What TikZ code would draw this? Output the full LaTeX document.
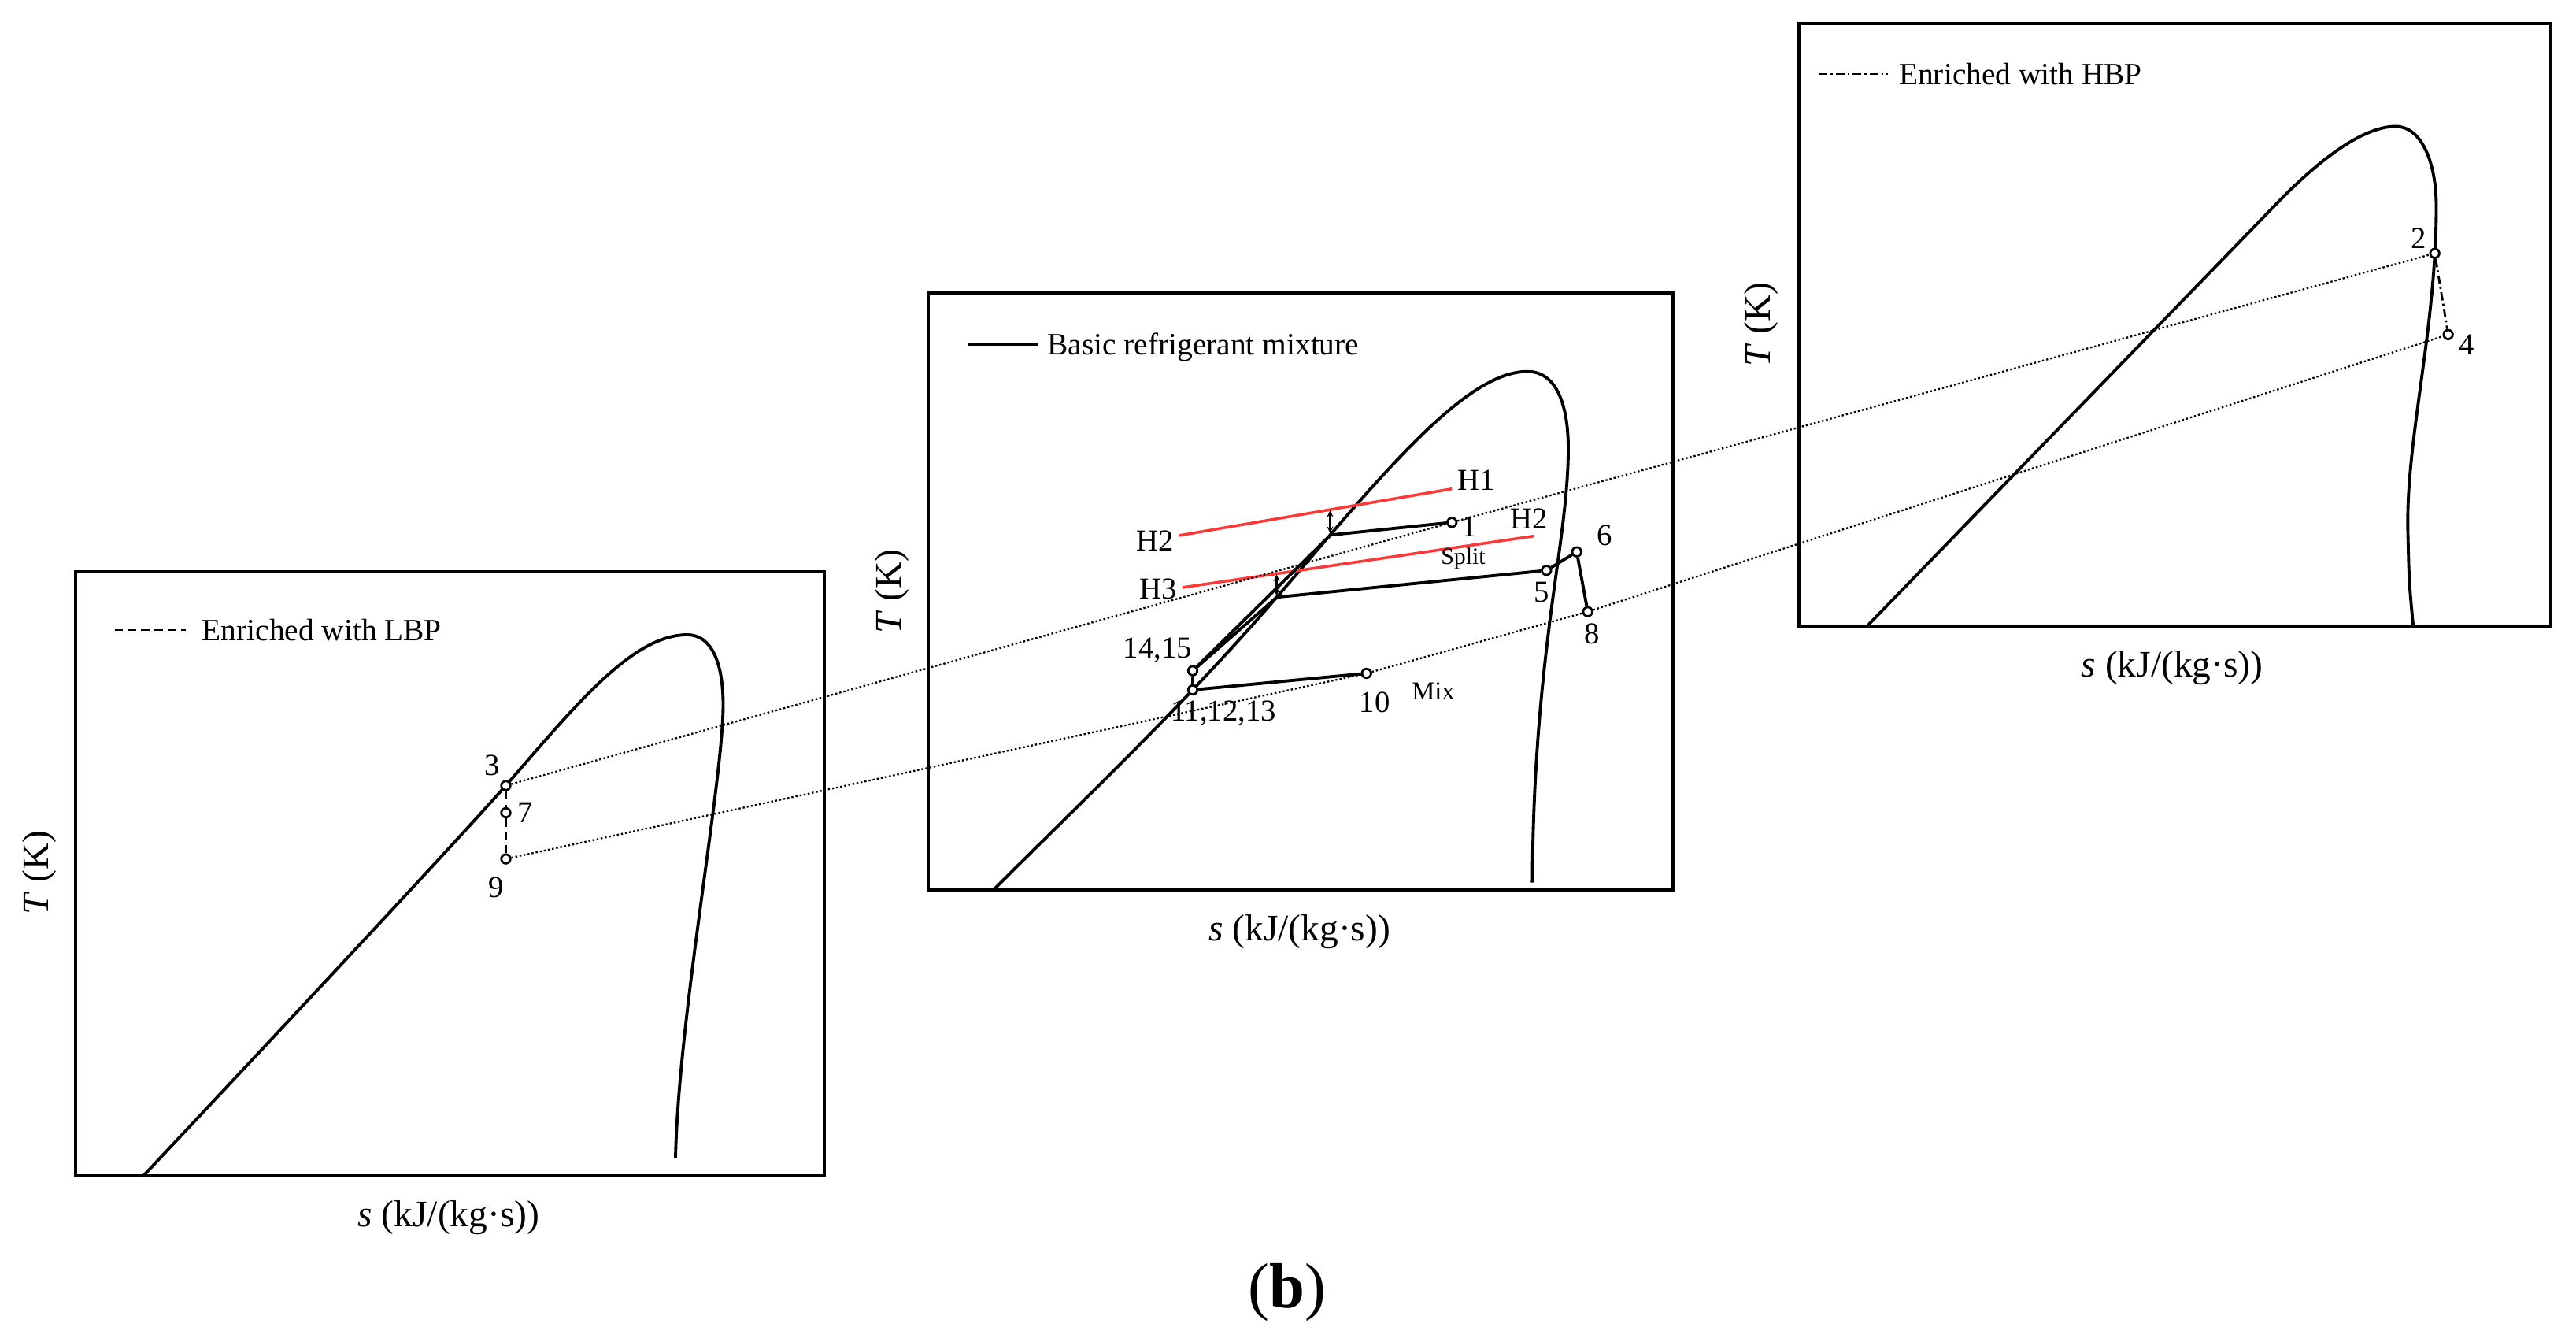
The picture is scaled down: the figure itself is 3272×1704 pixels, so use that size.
\documentclass[tikz,border=0pt]{standalone}
\usepackage{fontspec}
\setmainfont{Liberation Serif}
\usetikzlibrary{arrows.meta}
\definecolor{hred}{RGB}{255,55,55}
\begin{document}
\begin{tikzpicture}[x=0.01cm,y=-0.01cm,
  frame/.style={line width=1.4pt},
  sat/.style={line width=1.1pt, line join=round},
  cyc/.style={line width=1.1pt},
  pt/.style={circle, draw, fill=white, line width=0.8pt, inner sep=0pt, minimum size=0.115cm},
  link/.style={line width=0.65pt, dash pattern=on 0.7pt off 0.8pt},
  lbl/.style={inner sep=0pt, font=\fontsize{11}{13}\selectfont},
  tinylbl/.style={inner sep=0pt, font=\fontsize{8.5}{10}\selectfont},
  axislbl/.style={inner sep=0pt, font=\fontsize{13.5}{16}\selectfont},
  legendtxt/.style={inner sep=0pt, anchor=base west, font=\fontsize{11.2}{13}\selectfont},
  hline/.style={line width=1pt, draw=hred},
  tick/.style={line width=0.7pt, {Stealth[length=0.085cm,width=0.08cm]}-{Stealth[length=0.085cm,width=0.08cm]}},
  lbpdash/.style={line width=0.8pt, dash pattern=on 3pt off 1.8pt},
  hbpdash/.style={line width=0.8pt, dash pattern=on 3pt off 1.2pt on 0.7pt off 1.2pt},
]
\fill[white] (0,0) rectangle (3272,1704);
\useasboundingbox (0,0) rectangle (3272,1704);

% ---------------- frames ----------------
\draw[frame] (96,726) rectangle (1047,1493);
\draw[frame] (1179,372) rectangle (2125,1130);
\draw[frame] (2285,30) rectangle (3240,796);

% ---------------- saturation curves ----------------
% left panel
\draw[sat] (183,1492) .. controls (340,1325) and (560,1090) .. (642.5,997.5)
  .. controls (730,897) and (803,806) .. (873,806)
  .. controls (903,806) and (918.5,840) .. (918.5,895)
  .. controls (918.5,990) and (862,1290) .. (858,1470);
% middle panel
\draw[sat] (1262.8,1129) .. controls (1382.8,1009) and (1501.7,897.3) .. (1621.7,758.3)
  .. controls (1751.7,607.5) and (1860,471.7) .. (1940,471.7)
  .. controls (1975,471.7) and (1992,510) .. (1992,570)
  .. controls (1992,640) and (1975,730) .. (1966,810)
  .. controls (1955,900) and (1947,1000) .. (1946.4,1120.7);
% right panel
\draw[sat] (2370.6,796) -- (2900,250)
  .. controls (2940,210) and (2998,160.5) .. (3043,160.5)
  .. controls (3075,160.5) and (3094.5,205) .. (3094.5,262)
  .. controls (3094.5,420) and (3055,560) .. (3058.5,678.2)
  .. controls (3060,740) .. (3065.3,796);

% ---------------- legends ----------------
\coordinate (lgLa) at (145.6,800); \coordinate (lgLb) at (236,800);
\draw[lbpdash] (lgLa) -- (lgLb);
\node[legendtxt] (lgLt) at (256,814) {Enriched with LBP};
\coordinate (lgMa) at (1230,436.6); \coordinate (lgMb) at (1318.5,436.6);
\draw[line width=1.1pt] (lgMa) -- (lgMb);
\node[legendtxt] (lgMt) at (1329.6,450.7) {Basic refrigerant mixture};
\coordinate (lgRa) at (2310.5,94); \coordinate (lgRb) at (2398,94);
\draw[hbpdash] (lgRa) -- (lgRb);
\node[legendtxt] (lgRt) at (2411.5,108) {Enriched with HBP};

% ---------------- red lines ----------------
\coordinate (h1a) at (1497.3,680); \coordinate (h1b) at (1844.2,620.7);
\coordinate (h2a) at (1501.8,746); \coordinate (h2b) at (1948.2,680.7);
\draw[hline] (h1a) -- (h1b);
\draw[hline] (h2a) -- (h2b);

% ---------------- junctions ----------------
\coordinate (j1) at (1690,679.3);
\coordinate (j5) at (1621.7,758.3);
\coordinate (a1t) at (1689.5,648); \coordinate (a1b) at (1689.5,677);
\coordinate (a2t) at (1621.5,729.5); \coordinate (a2b) at (1621.5,756);

% ---------------- state points ----------------
\node[pt] (p3) at (642.5,997.5) {};
\node[pt] (p7) at (642.5,1032) {};
\node[pt] (p9) at (642.5,1090.6) {};
\node[pt] (p1) at (1844.2,663.3) {};
\node[pt] (p5) at (1964.3,724.3) {};
\node[pt] (p6) at (2002.7,700.7) {};
\node[pt] (p8) at (2016.7,776.7) {};
\node[pt] (p10) at (1735.7,855) {};
\node[pt] (p11) at (1515,876) {};
\node[pt] (p14) at (1515,851.7) {};
\node[pt] (p2) at (3092.6,321.7) {};
\node[pt] (p4) at (3109.6,424.8) {};

% ---------------- cycle lines ----------------
\draw[cyc] (j1) -- (p1);
\draw[cyc] (j5) -- (p5);
\draw[cyc] (p5) -- (p6) -- (p8);
\draw[cyc] (p11) -- (p10);
\draw[cyc] (p14) -- (j1);
\draw[cyc] (p14) -- (j5);
\draw[cyc] (p11) -- (p14);
\draw[tick] (a1t) -- (a1b);
\draw[tick] (a2t) -- (a2b);

\draw[lbpdash] (p3) -- (p7) -- (p9);
\draw[hbpdash] (p2) -- (p4);

% ---------------- dotted links ----------------
\draw[link] (p3) -- (p1) -- (p2);
\draw[link] (p9) -- (p10) -- (p8) -- (p4);

% ---------------- labels ----------------
\node[lbl] (t3) at (625,972) {3};
\node[lbl] (t7) at (667.5,1032) {7};
\node[lbl] (t9) at (630,1127) {9};
\node[lbl] (t1) at (1866.5,669) {1};
\node[lbl] (tH1) at (1875.4,610) {H1};
\node[lbl] (tH2l) at (1467,686.7) {H2};
\node[lbl] (tH2r) at (1942.4,658.3) {H2};
\node[lbl] (tH3) at (1471.4,748.3) {H3};
\node[tinylbl] (tsplit) at (1858.5,709.3) {Split};
\node[lbl] (t5) at (1958.3,751.7) {5};
\node[lbl] (t6) at (2037.7,680) {6};
\node[lbl] (t8) at (2021.7,805) {8};
\node[lbl] (t1415) at (1470.5,826) {14,15};
\node[lbl] (t111213) at (1554,906) {11,12,13};
\node[lbl] (t10) at (1746,891.7) {10};
\node[inner sep=0pt, font=\fontsize{9.3}{11}\selectfont] (tmix) at (1820.5,877.7) {Mix};
\node[lbl] (t2) at (3072,302.5) {2};
\node[lbl] (t4) at (3133.5,438) {4};

% ---------------- axis labels ----------------
\node[axislbl, rotate=90] (yL) at (50,1108) {\textit{T} (K)};
\node[axislbl] (xL) at (570,1546) {\textit{s} (kJ/(kg·s))};
\node[axislbl, rotate=90] (yM) at (1133,751) {\textit{T} (K)};
\node[axislbl] (xM) at (1650.6,1183) {\textit{s} (kJ/(kg·s))};
\node[axislbl, rotate=90] (yR) at (2237.5,412) {\textit{T} (K)};
\node[axislbl] (xR) at (2759,848) {\textit{s} (kJ/(kg·s))};

\node[inner sep=0pt, font=\fontsize{23}{27}\selectfont] (cap) at (1635,1641) {(\textbf{b})};
\end{tikzpicture}
\end{document}
